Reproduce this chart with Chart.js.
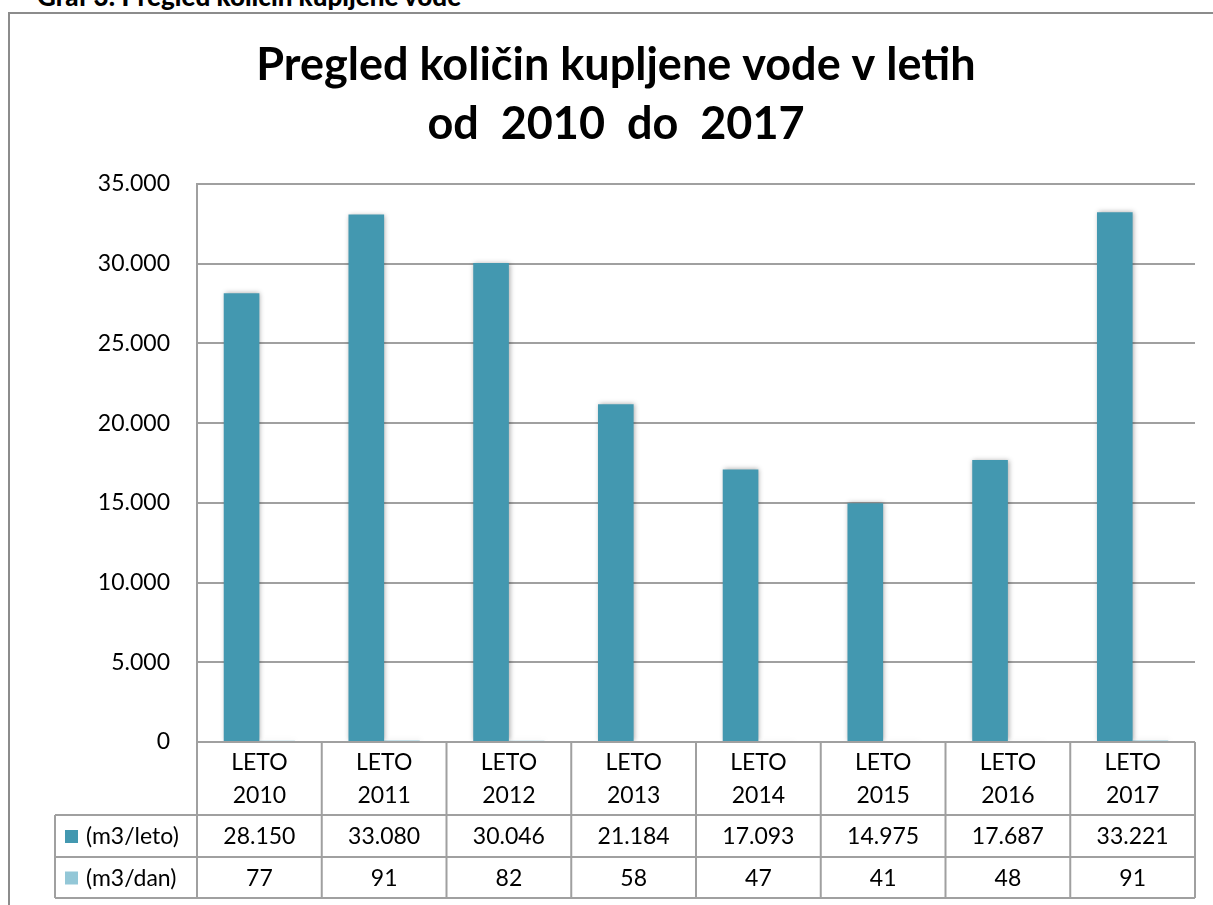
<!DOCTYPE html>
<html>
<head>
<meta charset="utf-8">
<script src="https://cdn.jsdelivr.net/npm/chart.js@4"></script>
<style>
  body { margin: 0; background: #fff; overflow: hidden; }
  #frame {
    position: absolute; left: 8px; top: 12px; width: 1300px; height: 1000px;
    border-left: 2px solid #8c8c8c; border-top: 2px solid #8c8c8c;
  }
  #caption {
    position: absolute; left: 37px; top: -19px;
    font: 900 26px Lato, sans-serif; line-height: 31px; white-space: nowrap;
  }
  #chart { position: absolute; left: 0; top: 0; }
</style>
</head>
<body>
<div id="frame"></div>
<div id="caption">Graf 3: Pregled količin kupljene vode</div>
<canvas id="chart" width="1213" height="905"></canvas>
<script>
const years = ['2010', '2011', '2012', '2013', '2014', '2015', '2016', '2017'];
const perYear = [28150, 33080, 30046, 21184, 17093, 14975, 17687, 33221];
const perDay = [77, 91, 82, 58, 47, 41, 48, 91];
const seriesNames = ['(m3/leto)', '(m3/dan)'];
const seriesColors = ['#4398b0', '#93c7d7'];
const yTicks = [0, 5000, 10000, 15000, 20000, 25000, 30000, 35000];

const FONT = 'Lato, sans-serif';
const LINE = '#a0a0a0';

function fmt(v) {
    return v.toString().replace(/\B(?=(\d{3})+(?!\d))/g, '.');
}

// soft shadow round the bars
const barShadow = {
    id: 'barShadow',
    beforeDatasetsDraw(chart) {
        const ctx = chart.ctx;
        ctx.save();
        ctx.shadowColor = 'rgba(0,0,0,0.35)';
        ctx.shadowBlur = 5;
        ctx.shadowOffsetX = 1;
        ctx.shadowOffsetY = 0;
    },
    afterDatasetsDraw(chart) {
        chart.ctx.restore();
    }
};

// data table under the x axis
const dataTable = {
    id: 'dataTable',
    afterDraw(chart) {
        const ctx = chart.ctx;
        const area = chart.chartArea;
        const x = chart.scales.x;
        const n = years.length;
        const cw = (area.right - area.left) / n;
        const top = area.bottom;
        const rows = [top + 73, top + 115, top + 156];
        const leftCol = 55;

        ctx.save();
        ctx.strokeStyle = LINE;
        ctx.lineWidth = 2;
        ctx.beginPath();
        ctx.moveTo(area.left, top); ctx.lineTo(area.right, top);
        rows.forEach(y => { ctx.moveTo(leftCol, y); ctx.lineTo(area.right, y); });
        for (let i = 0; i <= n; i++) {
            const bx = i < n ? x.getPixelForTick(i) - cw / 2 : x.getPixelForTick(n - 1) + cw / 2;
            ctx.moveTo(bx, top); ctx.lineTo(bx, rows[2]);
        }
        ctx.moveTo(leftCol, rows[0]); ctx.lineTo(leftCol, rows[2]);
        ctx.stroke();

        ctx.font = '23px ' + FONT;
        ctx.fillStyle = '#000';
        ctx.textBaseline = 'middle';
        [perYear, perDay].forEach((vals, r) => {
            const cy = (rows[r] + rows[r + 1]) / 2;
            ctx.textAlign = 'center';
            vals.forEach((v, i) => ctx.fillText(fmt(v), x.getPixelForTick(i), cy + 1));
            ctx.fillStyle = seriesColors[r];
            ctx.fillRect(65, cy - 6, 13, 13);
            ctx.fillStyle = '#000';
            ctx.textAlign = 'left';
            ctx.fillText(seriesNames[r], 86, cy + 1);
        });
        ctx.restore();
    }
};

new Chart(document.getElementById('chart'), {
    type: 'bar',
    data: {
        labels: years.map(y => ['LETO', y]),
        datasets: [
            { label: seriesNames[0], data: perYear, backgroundColor: seriesColors[0] },
            { label: seriesNames[1], data: perDay, backgroundColor: seriesColors[1] }
        ]
    },
    options: {
        responsive: false,
        animation: false,
        devicePixelRatio: 1,
        datasets: { bar: { categoryPercentage: 0.5714, barPercentage: 1 } },
        layout: { padding: { top: 0, left: 37, right: 18, bottom: 7 } },
        plugins: {
            legend: { display: false },
            tooltip: { enabled: false },
            title: {
                display: true,
                text: ['Pregled količin kupljene vode v letih', 'od  2010  do  2017'],
                color: '#000',
                font: { family: FONT, size: 45, weight: 'bold', lineHeight: 1.31 },
                padding: { top: 36, bottom: 30 }
            }
        },
        scales: {
            x: {
                grid: { display: false },
                border: { display: false },
                ticks: {
                    color: '#000', font: { family: FONT, size: 23, lineHeight: 1.45 },
                    padding: -4, maxRotation: 0, autoSkip: false
                },
                afterFit(scale) { scale.height = 156; }
            },
            y: {
                min: 0, max: 35000,
                afterBuildTicks(scale) { scale.ticks = yTicks.map(v => ({ value: v })); },
                grid: { color: LINE, lineWidth: 2, drawTicks: false },
                border: { color: LINE, width: 2 },
                ticks: {
                    color: '#000', font: { family: FONT, size: 23 }, padding: 27,
                    callback: v => fmt(v)
                },
                afterFit(scale) { scale.width = 160; }
            }
        }
    },
    plugins: [barShadow, dataTable]
});
</script>
</body>
</html>
